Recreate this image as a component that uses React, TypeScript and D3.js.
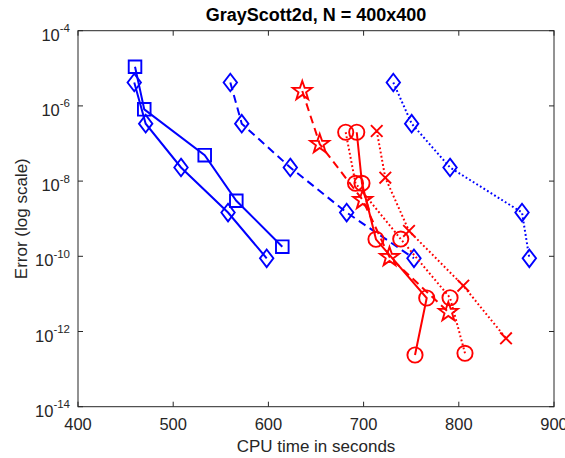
import React from "react";
import * as d3 from "d3";

// ---- data ----
const xTicks = [400, 500, 600, 700, 800, 900];
const yTickExps = [-4, -6, -8, -10, -12, -14];

const sqSolidX = [459.9, 469.6, 533.1, 566.3, 614.6];
const sqSolidY = [1.1e-5, 8.1e-7, 4.9e-8, 3.0e-9, 1.8e-10];

const dmSolidX = [459.1, 471.1, 508.2, 557.6, 598.2];
const dmSolidY = [4.19e-6, 3.37e-7, 2.3e-8, 1.46e-9, 8.85e-11];

const dmDashX = [560.0, 572.0, 623.0, 682.2, 752.9];
const dmDashY = [4.19e-6, 3.37e-7, 2.3e-8, 1.46e-9, 8.85e-11];

const dmDotX = [731.2, 750.5, 790.8, 866.4, 874.1];
const dmDotY = [4.19e-6, 3.37e-7, 2.3e-8, 1.46e-9, 8.85e-11];

const starDashX = [635.6, 653.9, 699.1, 727.2, 789.0];
const starDashY = [2.49e-6, 9.7e-8, 3.14e-9, 9.57e-11, 3.3e-12];

const xDotX = [713.8, 722.8, 747.7, 804.7, 849.6];
const xDotY = [2.15e-7, 1.23e-8, 4.71e-10, 1.65e-11, 6.59e-13];

const circSolidX = [692.8, 698.3, 713.0, 766.3, 754.0];
const circSolidY = [1.99e-7, 8.73e-9, 2.83e-10, 7.78e-12, 2.37e-13];

const circDotX = [681.2, 691.5, 739.0, 790.8, 806.5];
const circDotY = [1.99e-7, 8.73e-9, 2.88e-10, 7.9e-12, 2.63e-13];

type Marker = "square" | "diamond" | "star" | "x" | "circle";
type Series = { xs: number[]; ys: number[]; color: string; dash: string; marker: Marker };

const BLUE = "#0000ff";
const RED = "#ff0000";
const DASH = "8,5";
const DOT = "1.8,2.4";

const series: Series[] = [
  { xs: sqSolidX, ys: sqSolidY, color: BLUE, dash: "", marker: "square" },
  { xs: dmSolidX, ys: dmSolidY, color: BLUE, dash: "", marker: "diamond" },
  { xs: dmDashX, ys: dmDashY, color: BLUE, dash: DASH, marker: "diamond" },
  { xs: dmDotX, ys: dmDotY, color: BLUE, dash: DOT, marker: "diamond" },
  { xs: starDashX, ys: starDashY, color: RED, dash: DASH, marker: "star" },
  { xs: xDotX, ys: xDotY, color: RED, dash: DOT, marker: "x" },
  { xs: circSolidX, ys: circSolidY, color: RED, dash: "", marker: "circle" },
  { xs: circDotX, ys: circDotY, color: RED, dash: DOT, marker: "circle" },
];

const W = 565;
const H = 458;
const L = 78, R = 554, T = 30.7, B = 406.7;
const AX = "#262626";
const FONT = "'Liberation Sans', Arial, Helvetica, sans-serif";

function starPath(R0: number) {
  const r = R0 * 0.4;
  const pts: string[] = [];
  for (let k = 0; k < 10; k++) {
    const a = (-90 + k * 36) * Math.PI / 180;
    const rr = k % 2 === 0 ? R0 : r;
    pts.push(`${(rr * Math.cos(a)).toFixed(2)},${(rr * Math.sin(a)).toFixed(2)}`);
  }
  return "M" + pts.join("L") + "Z";
}

function markerPath(m: Marker) {
  switch (m) {
    case "square": return "M-6.3,-6.3L6.3,-6.3L6.3,6.3L-6.3,6.3Z";
    case "diamond": return "M0,-8.8L6.7,0L0,8.8L-6.7,0Z";
    case "star": return starPath(10);
    case "x": return "M-5.8,-5.8L5.8,5.8M-5.8,5.8L5.8,-5.8";
    case "circle": return "M7.6,0A7.6,7.6 0 1,1 -7.6,0A7.6,7.6 0 1,1 7.6,0Z";
  }
}

export default function App() {
  const x = d3.scaleLinear().domain([400, 900]).range([L, R]);
  const y = d3.scaleLog().domain([1e-14, 1e-4]).range([B, T]);
  const line = d3.line<[number, number]>().x(d => x(d[0])).y(d => y(d[1]));

  return (
    <svg width={W} height={H} style={{ position: "absolute", left: 0, top: 0, background: "#fff" }}
      fontFamily={FONT}>
      <rect x={0} y={0} width={W} height={H} fill="#fff" />
      {/* ticks */}
      {xTicks.map(t => (
        <g key={"xt" + t}>
          <line x1={x(t)} x2={x(t)} y1={B} y2={B - 5} stroke={AX} strokeWidth={1} />
          <line x1={x(t)} x2={x(t)} y1={T} y2={T + 5} stroke={AX} strokeWidth={1} />
          <text x={x(t)} y={B + 23.5} textAnchor="middle" fontSize={16.5} fill={AX}>{t}</text>
        </g>
      ))}
      {yTickExps.map(e => (
        <g key={"yt" + e}>
          <line x1={L} x2={L + 5} y1={y(Math.pow(10, e))} y2={y(Math.pow(10, e))} stroke={AX} strokeWidth={1} />
          <line x1={R} x2={R - 5} y1={y(Math.pow(10, e))} y2={y(Math.pow(10, e))} stroke={AX} strokeWidth={1} />
          <text x={70} y={y(Math.pow(10, e)) + 10} textAnchor="end" fontSize={16.5} fill={AX}>
            10<tspan fontSize={11.5} dy={-8.5}>{e}</tspan>
          </text>
        </g>
      ))}
      {/* box */}
      <rect x={L} y={T} width={R - L} height={B - T} fill="none" stroke={AX} strokeWidth={1} />
      {/* series */}
      {series.map((s, i) => {
        const pts = s.xs.map((v, j) => [v, s.ys[j]] as [number, number]);
        return (
          <g key={"s" + i}>
            <path d={line(pts) || ""} fill="none" stroke={s.color} strokeWidth={2}
              strokeDasharray={s.dash || undefined} />
            {pts.map((p, j) => (
              <path key={j} d={markerPath(s.marker)} transform={`translate(${x(p[0])},${y(p[1])})`}
                fill="none" stroke={s.color} strokeWidth={1.9} />
            ))}
          </g>
        );
      })}
      {/* labels */}
      <text x={(L + R) / 2} y={21} textAnchor="middle" fontSize={18} fontWeight="bold" fill="#000">
        GrayScott2d, N = 400x400
      </text>
      <text x={(L + R) / 2} y={452} textAnchor="middle" fontSize={17} fill={AX}>CPU time in seconds</text>
      <text transform={`translate(27,${(T + B) / 2}) rotate(-90)`} textAnchor="middle" fontSize={17} fill={AX}>
        Error (log scale)
      </text>
    </svg>
  );
}
